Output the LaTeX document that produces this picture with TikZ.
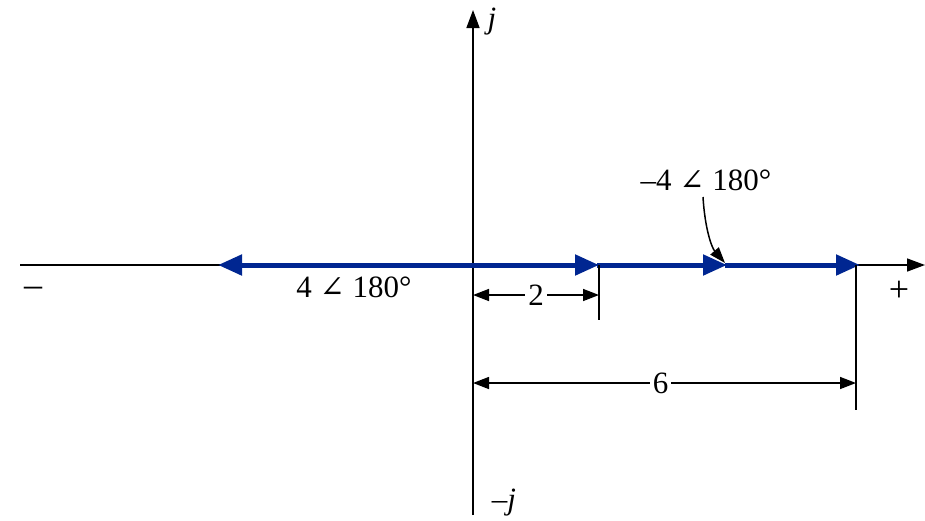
\documentclass[tikz,border=0pt]{standalone}
\usepackage{fontspec}
\setmainfont{Liberation Serif}
\newfontfamily\angfont{DejaVu Serif}
\usetikzlibrary{arrows.meta}
\definecolor{vecblue}{RGB}{0,38,145}
\newcommand{\ang}{{\angfont\fontsize{30}{32}\selectfont ∠}}
\tikzset{
  axis/.style={line width=1.5pt,-{Triangle[length=18pt,width=13pt]}},
  vec/.style={draw=vecblue,line width=5pt,-{Triangle[length=24pt,width=20pt]},shorten >=-2pt},
  dim/.style={line width=1.5pt,{Triangle[length=16pt,width=12pt]}-{Triangle[length=16pt,width=12pt]}},
  tick/.style={line width=1.5pt},
  lbl/.style={font=\fontsize{31}{34}\selectfont,inner sep=1pt},
  sgn/.style={font=\fontsize{36}{38}\selectfont,inner sep=1pt},
  dimlbl/.style={font=\fontsize{31}{34}\selectfont,fill=white,inner sep=3pt}
}
\begin{document}
\begin{tikzpicture}[x=1pt,y=-1pt]
\useasboundingbox (0,0) rectangle (925,520);
% points
\coordinate (O) at (473,265);
\coordinate (xl) at (20,265);
\coordinate (xr) at (925,265);
\coordinate (yb) at (473,515);
\coordinate (yt) at (473,10);
\coordinate (pm4) at (220,265);
\coordinate (p2) at (597,265);
\coordinate (p4) at (725,265);
\coordinate (p6) at (858,265);
\coordinate (t2) at (599,320);
\coordinate (t6) at (856,410);
\coordinate (t2top) at (599,265);
\coordinate (t6top) at (856,265);
% axes
\draw[axis] (xl) -- (xr);
\draw[axis] (yb) -- (yt);
% vectors
\draw[vec] (O) -- (pm4);
\draw[vec] (O) -- (p2);
\draw[vec] (p2) -- (p4);
\draw[vec] (p4) -- (p6);
% ticks
\draw[tick] (t2top) -- (t2);
\draw[tick] (t6top) -- (t6);
% dimensions
\coordinate (d2a) at (473,295);
\coordinate (d2b) at (599,295);
\coordinate (d6a) at (473,383);
\coordinate (d6b) at (856,383);
\draw[dim] (d2a) -- (d2b) node[dimlbl,pos=0.5] (two) {2};
\draw[dim] (d6a) -- (d6b) node[dimlbl,pos=0.49] (six) {6};
% labels
\node[lbl] (j) at (492,22) {\textit{j}};
\node[lbl] (mj) at (504,503) {–\textit{j}};
\node[sgn] (minus) at (33,292) {–};
\node[sgn] (plus) at (899,291) {+};
\node[lbl] (l1) at (354,287) {4 \ang\ 180°};
\node[lbl] (l2) at (706,180) {–4 \ang\ 180°};
\coordinate (ctip) at (725,263);
\draw[line width=1.5pt,-{Triangle[length=16pt,width=11pt]}] (703,197) .. controls (705,230) and (712,248) .. (ctip);
\end{tikzpicture}
\end{document}
